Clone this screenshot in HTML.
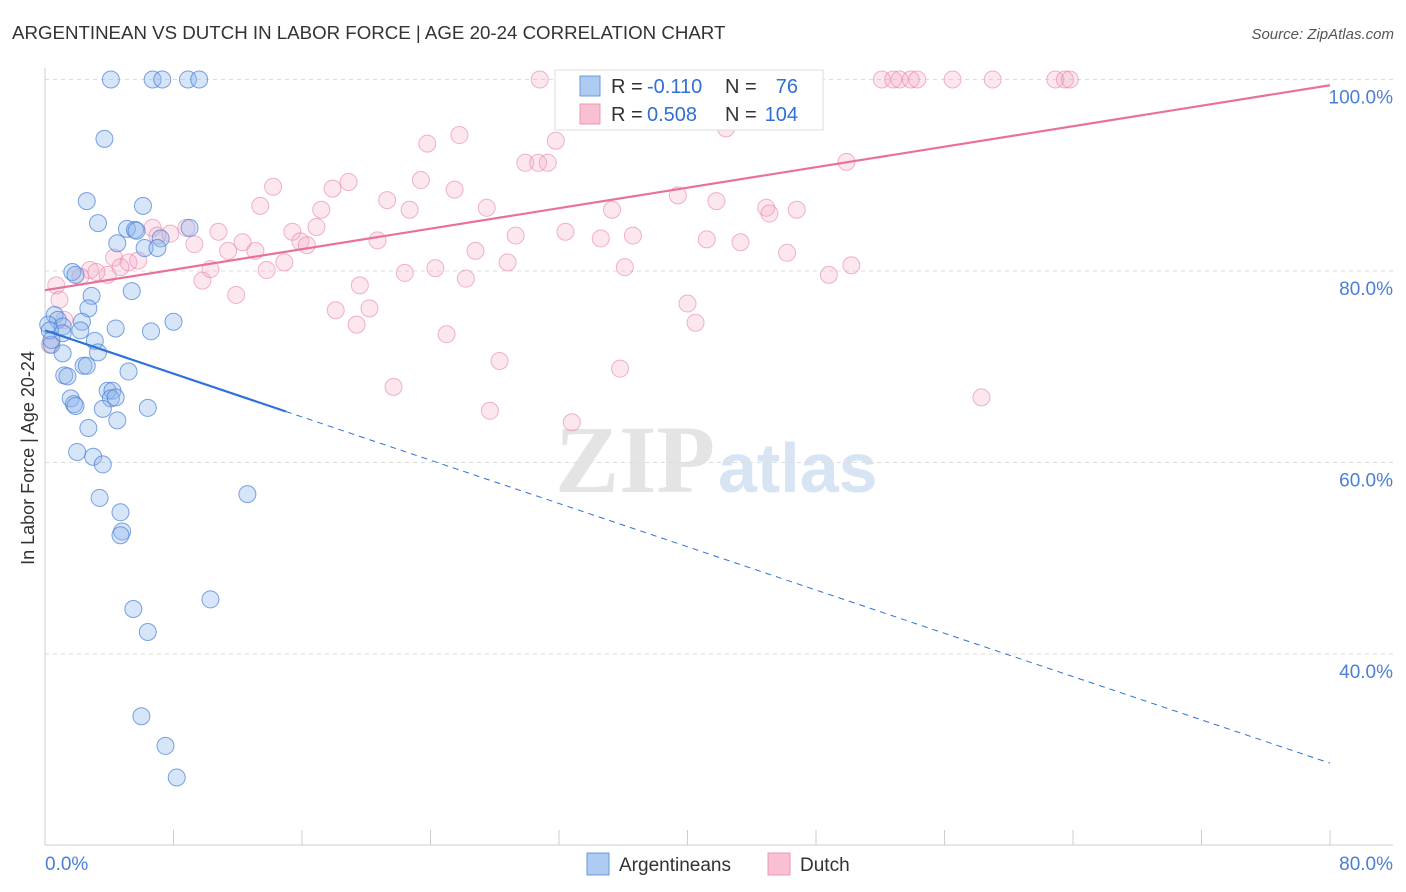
<!DOCTYPE html>
<html><head><meta charset="utf-8"><style>
body{margin:0;background:#fff;font-family:"Liberation Sans",sans-serif;}
#wrap{position:relative;width:1406px;height:892px;overflow:hidden;}
</style></head><body>
<div id="wrap">
<svg id="svg" width="1406" height="892" xmlns="http://www.w3.org/2000/svg">
<text x="12" y="39" font-size="18.7" fill="#333">ARGENTINEAN VS DUTCH IN LABOR FORCE | AGE 20-24 CORRELATION CHART</text>
<text x="1394" y="39" font-size="15" fill="#555" font-style="italic" text-anchor="end">Source: ZipAtlas.com</text>
<text x="34" y="458" font-size="18" fill="#333" text-anchor="middle" transform="rotate(-90 34 458)">In Labor Force | Age 20-24</text>
<text x="555" y="492" font-size="96" fill="#e4e4e4" font-family="Liberation Serif,serif" font-weight="bold">ZIP</text>
<text x="718" y="492" font-size="70" fill="#d6e4f4" font-weight="bold">atlas</text>
<g id="grid"></g><g id="axes"></g><g id="pts"></g><g id="lines"></g>
<g>
<rect x="555" y="70" width="268" height="60" fill="#fff" stroke="#ddd"/>
<rect x="580" y="76" width="20" height="20" fill="#aecbf2" stroke="#6b9be0"/>
<rect x="580" y="104" width="20" height="20" fill="#f8c0d2" stroke="#ec98b3"/>
<text x="611" y="93" font-size="20" fill="#333">R =</text>
<text x="647" y="93" font-size="20" fill="#2f6fd6">-0.110</text>
<text x="725" y="93" font-size="20" fill="#333">N =</text>
<text x="798" y="93" font-size="20" fill="#2f6fd6" text-anchor="end">76</text>
<text x="611" y="121" font-size="20" fill="#333">R =</text>
<text x="647" y="121" font-size="20" fill="#2f6fd6">0.508</text>
<text x="725" y="121" font-size="20" fill="#333">N =</text>
<text x="798" y="121" font-size="20" fill="#2f6fd6" text-anchor="end">104</text>
</g>
<g>
<rect x="587" y="853" width="22" height="22" fill="#aecbf2" stroke="#6b9be0"/>
<text x="619" y="871" font-size="19" fill="#333">Argentineans</text>
<rect x="768" y="853" width="22" height="22" fill="#f8c0d2" stroke="#ec98b3"/>
<text x="800" y="871" font-size="19" fill="#333">Dutch</text>
</g>
</svg>
<script>
const blueX=[4.1,6.7,7.3,8.9,9.6,3.7,2.6,6.1,3.3,5.1,5.6,5.7,9.0,7.2,4.5,6.2,7.0,1.7,1.9,5.4,2.9,2.7,0.6,0.8,2.3,0.2,1.1,1.1,2.2,4.4,6.6,8.0,3.1,0.4,3.3,1.1,2.4,2.6,1.2,1.4,5.2,3.9,4.2,4.1,4.4,1.6,1.8,1.9,3.6,6.4,4.5,2.7,2.0,3.0,3.6,3.4,12.6,4.7,4.8,4.7,5.5,10.3,6.4,6.0,7.5,8.2,0.3,0.4];
const blueY=[100,100,100,100,100,93.8,87.3,86.8,85.0,84.4,84.3,84.2,84.5,83.4,82.9,82.4,82.4,79.9,79.6,77.9,77.4,76.1,75.4,74.9,74.7,74.4,74.2,73.5,73.8,74.0,73.7,74.7,72.7,72.3,71.5,71.4,70.1,70.1,69.1,69.0,69.5,67.5,67.5,66.7,66.8,66.7,66.1,65.9,65.6,65.7,64.4,63.6,61.1,60.6,59.8,56.3,56.7,54.8,52.8,52.4,44.7,45.7,42.3,33.5,30.4,27.1,73.8,72.8];
const pinkX=[30.8,33.3,37.0,38.9,44.5,47.9,52.1,52.8,53.2,53.9,54.3,56.5,59.0,62.9,63.5,63.8,25.8,23.8,31.8,42.4,29.9,30.7,31.3,49.9,14.2,17.9,18.9,23.4,25.5,21.3,13.4,17.2,22.7,27.5,39.4,41.8,35.3,44.9,45.1,46.8,6.7,8.8,10.8,15.4,16.9,20.7,29.3,32.4,34.6,36.6,41.2,43.3,7.0,7.8,9.3,12.3,13.1,11.4,15.9,16.3,26.8,28.8,46.2,24.3,22.4,13.8,14.9,10.3,36.1,48.8,50.2,26.2,19.6,9.8,11.9,40.0,40.5,18.1,20.2,19.4,25.0,28.3,35.8,21.7,27.7,32.8,58.3,5.2,3.9,2.8,2.2,0.7,0.9,1.2,0.3,4.3,4.7,3.2,5.8];
const pinkY=[100,100,100,100,100,100,100,100,100,100,100,100,100,100,100,100,94.2,93.3,93.6,94.9,91.3,91.3,91.3,91.4,88.8,88.6,89.3,89.5,88.5,87.4,86.8,86.4,86.4,86.6,87.9,87.3,86.4,86.6,86.0,86.4,84.5,84.5,84.1,84.1,84.6,83.2,83.7,84.1,83.4,83.7,83.3,83.0,83.7,83.9,82.8,83.0,82.1,82.1,83.1,82.7,82.1,80.9,81.9,80.3,79.8,80.1,80.9,80.2,80.4,79.6,80.6,79.2,78.5,79.0,77.5,76.6,74.6,75.9,76.1,74.4,73.4,70.6,69.8,67.9,65.4,64.2,66.8,80.9,79.6,80.1,79.4,78.5,77.0,74.9,72.3,81.4,80.4,79.9,81.1];
const yTicks=[100,80,60,40];
const xTickVals=[0,8,16,24,32,40,48,56,64,72,80];
const pinkTrend=[78.0,99.4];
const blueTrend=[73.8,28.6];
const blueSolidEnd=15.0;
const NS="http://www.w3.org/2000/svg";
const X=v=>45+v/80*1285;
const Y=v=>79.5+(100-v)*9.575;
function mk(tag,attrs,parent){const e=document.createElementNS(NS,tag);for(const k in attrs)e.setAttribute(k,attrs[k]);document.getElementById(parent).appendChild(e);return e;}
yTicks.forEach(t=>{
 const l=mk('line',{x1:45,x2:1393,y1:Y(t),y2:Y(t),stroke:'#dcdcdc','stroke-dasharray':'4,4'},'grid');
 
 
 const tx=mk('text',{x:1393,y:Y(t)+24,'font-size':19,fill:'#4a7fd6','text-anchor':'end'},'grid');
 tx.textContent=t.toFixed(1)+'%';
 
 
});
const ax=mk('line',{x1:45,x2:1393,y1:845,y2:845,stroke:'#ccc'},'axes');


const ay=mk('line',{x1:45,x2:45,y1:68,y2:845,stroke:'#ccc'},'axes');


xTickVals.forEach(t=>{
 const l=mk('line',{x1:X(t),x2:X(t),y1:830,y2:845,stroke:'#ccc'},'axes');
 
 
});
[[0,'start',45],[80,'end',1393]].forEach(([v,a,px])=>{
 const tx=mk('text',{x:px,y:870,'font-size':19,fill:'#4a7fd6','text-anchor':a},'axes');
 tx.textContent=v.toFixed(1)+'%';
 
 
});
pinkX.forEach((v,i)=>{
 const c=mk('circle',{cx:X(v),cy:Y(pinkY[i]),r:8.5,fill:'rgba(244,160,190,0.25)',stroke:'rgba(232,130,165,0.6)','stroke-width':1},'pts');
 
 
});
blueX.forEach((v,i)=>{
 const c=mk('circle',{cx:X(v),cy:Y(blueY[i]),r:8.5,fill:'rgba(140,180,235,0.35)',stroke:'rgba(70,125,215,0.7)','stroke-width':1},'pts');
 
 
});
const pl=mk('line',{x1:X(0),y1:Y(pinkTrend[0]),x2:X(80),y2:Y(pinkTrend[1]),stroke:'#e8709a','stroke-width':2.2},'lines');


const by=x=>blueTrend[0]+(blueTrend[1]-blueTrend[0])*x/80;
const bl=mk('line',{x1:X(0),y1:Y(blueTrend[0]),x2:X(blueSolidEnd),y2:Y(by(blueSolidEnd)),stroke:'#2e72d8','stroke-width':2.2},'lines');


const bd=mk('line',{x1:X(blueSolidEnd),y1:Y(by(blueSolidEnd)),x2:X(80),y2:Y(blueTrend[1]),stroke:'#2e72d8','stroke-width':1,'stroke-dasharray':'6,5'},'lines');


</script>
</div>
</body></html>
